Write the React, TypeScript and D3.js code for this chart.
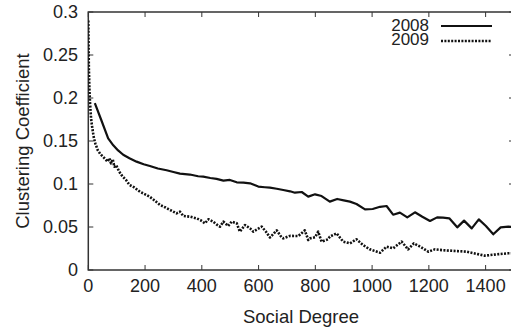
import React from "react";
import * as d3 from "d3";

const deg2008 = [23, 45, 70, 88, 105, 123, 145, 170, 195, 217, 245, 276, 300, 323, 358, 387, 405, 430, 452, 476, 499, 523, 547, 570, 599, 622, 640, 664, 687, 711, 728, 752, 775, 799, 822, 851, 877, 900, 922, 945, 975, 1002, 1028, 1051, 1074, 1098, 1124, 1151, 1177, 1204, 1229, 1250, 1272, 1300, 1324, 1351, 1376, 1401, 1427, 1453, 1480, 1500];
const cc2008 = [0.194, 0.175, 0.153, 0.145, 0.139, 0.134, 0.13, 0.126, 0.123, 0.121, 0.118, 0.116, 0.114, 0.112, 0.111, 0.109, 0.1085, 0.107, 0.106, 0.104, 0.1047, 0.102, 0.1015, 0.1008, 0.097, 0.0962, 0.0957, 0.0945, 0.093, 0.0915, 0.0899, 0.0907, 0.0853, 0.088, 0.086, 0.0795, 0.0826, 0.081, 0.0795, 0.0767, 0.0705, 0.0709, 0.0735, 0.0744, 0.0643, 0.0667, 0.0612, 0.0671, 0.062, 0.057, 0.0612, 0.0608, 0.0601, 0.0496, 0.0574, 0.0484, 0.0589, 0.0512, 0.0415, 0.0496, 0.0504, 0.05];

const deg2009 = [0, 1, 2, 4, 6, 10, 15, 20, 25, 33, 42, 51, 60, 68, 74, 80, 86, 92, 98, 109, 120, 133, 145, 162, 182, 206, 217, 229, 253, 270, 288, 311, 323, 335, 358, 370, 382, 395, 411, 423, 440, 452, 464, 476, 493, 505, 523, 534, 552, 570, 581, 611, 625, 640, 664, 681, 687, 711, 740, 763, 775, 781, 799, 810, 822, 845, 851, 875, 898, 922, 945, 968, 992, 1028, 1051, 1074, 1104, 1127, 1147, 1170, 1198, 1221, 1250, 1274, 1300, 1333, 1365, 1397, 1439, 1480, 1500];
const cc2009 = [0.29, 0.26, 0.235, 0.21, 0.195, 0.175, 0.163, 0.153, 0.147, 0.1395, 0.135, 0.132, 0.129, 0.126, 0.13, 0.124, 0.1287, 0.12, 0.122, 0.1143, 0.109, 0.1047, 0.099, 0.096, 0.091, 0.087, 0.085, 0.082, 0.0756, 0.073, 0.0698, 0.0659, 0.0678, 0.0628, 0.062, 0.061, 0.06, 0.058, 0.0543, 0.059, 0.0562, 0.053, 0.0504, 0.0562, 0.0512, 0.0562, 0.0543, 0.0446, 0.0523, 0.0484, 0.0446, 0.0504, 0.045, 0.0378, 0.0461, 0.038, 0.0368, 0.0397, 0.0395, 0.0461, 0.0349, 0.0368, 0.038, 0.0446, 0.033, 0.0357, 0.0388, 0.0426, 0.033, 0.031, 0.0357, 0.029, 0.024, 0.0201, 0.0271, 0.0252, 0.033, 0.024, 0.031, 0.027, 0.0213, 0.024, 0.023, 0.0225, 0.022, 0.0213, 0.019, 0.0167, 0.0182, 0.0194, 0.0195];

const xTicks = [0, 200, 400, 600, 800, 1000, 1200, 1400];
const yTicks = [0, 0.05, 0.1, 0.15, 0.2, 0.25, 0.3];
const yTickLabels = ["0", "0.05", "0.1", "0.15", "0.2", "0.25", "0.3"];
const seriesNames = ["2008", "2009"];

const W = 511;
const H = 329;
const L = 88.3, R = 514, T = 12, B = 270;

export default function App() {
  const x = d3.scaleLinear().domain([0, 1500]).range([L, R]);
  const y = d3.scaleLinear().domain([0, 0.3]).range([B, T]);
  const line = d3
    .line<[number, number]>()
    .x((d) => x(d[0]))
    .y((d) => y(d[1]));
  const s2008 = deg2008.map((d, i) => [d, cc2008[i]] as [number, number]);
  const s2009 = deg2009.map((d, i) => [d, cc2009[i]] as [number, number]);
  const axisColor = "#333";
  const font = "'Liberation Sans', Arial, Helvetica, sans-serif";
  const tl = 5;
  const fs = 18;
  return (
    <svg
      width={W}
      height={H}
      style={{ position: "absolute", left: 0, top: 0, background: "#fff" }}
      fontFamily={font}
    >
      <rect x={0} y={0} width={W} height={H} fill="#fff" />
      <defs>
        <clipPath id="plot">
          <rect x={L} y={T - 2} width={R - L} height={B - T + 4} />
        </clipPath>
      </defs>
      {xTicks.map((t) => (
        <g key={"x" + t}>
          <line x1={x(t)} x2={x(t)} y1={B} y2={B - tl} stroke={axisColor} strokeWidth={1} />
          <line x1={x(t)} x2={x(t)} y1={T} y2={T + tl} stroke={axisColor} strokeWidth={1} />
          <text x={x(t)} y={292} textAnchor="middle" fontSize={fs} fill="#222">
            {t}
          </text>
        </g>
      ))}
      {yTicks.map((t, i) => (
        <g key={"y" + t}>
          <line x1={L} x2={L + tl} y1={y(t)} y2={y(t)} stroke={axisColor} strokeWidth={1} />
          <line x1={R} x2={R - tl} y1={y(t)} y2={y(t)} stroke={axisColor} strokeWidth={1} />
          <text x={78} y={y(t) + 6.3} textAnchor="end" fontSize={fs} fill="#222">
            {yTickLabels[i]}
          </text>
        </g>
      ))}
      <rect x={L} y={T} width={R - L} height={B - T} fill="none" stroke={axisColor} strokeWidth={1.5} />
      <g clipPath="url(#plot)">
        <path d={line(s2008) || ""} fill="none" stroke="#111" strokeWidth={2.2} strokeLinejoin="round" />
        <path
          d={line(s2009) || ""}
          fill="none"
          stroke="#111"
          strokeWidth={2.6}
          strokeDasharray="2,1.4"
          strokeLinejoin="round"
        />
      </g>
      <text x={429} y={31} textAnchor="end" fontSize={17} fill="#222">
        {seriesNames[0]}
      </text>
      <line x1={441} x2={492} y1={26} y2={26} stroke="#111" strokeWidth={2.2} />
      <text x={429} y={45} textAnchor="end" fontSize={17} fill="#222">
        {seriesNames[1]}
      </text>
      <line x1={441} x2={492} y1={41} y2={41} stroke="#111" strokeWidth={2.4} strokeDasharray="2,1.4" />
      <text x={301} y={323} textAnchor="middle" fontSize={18.5} fill="#222">
        Social Degree
      </text>
      <text
        transform={`translate(29,${(T + B) / 2}) rotate(-90)`}
        textAnchor="middle"
        fontSize={18.5}
        fill="#222"
      >
        Clustering Coefficient
      </text>
    </svg>
  );
}
